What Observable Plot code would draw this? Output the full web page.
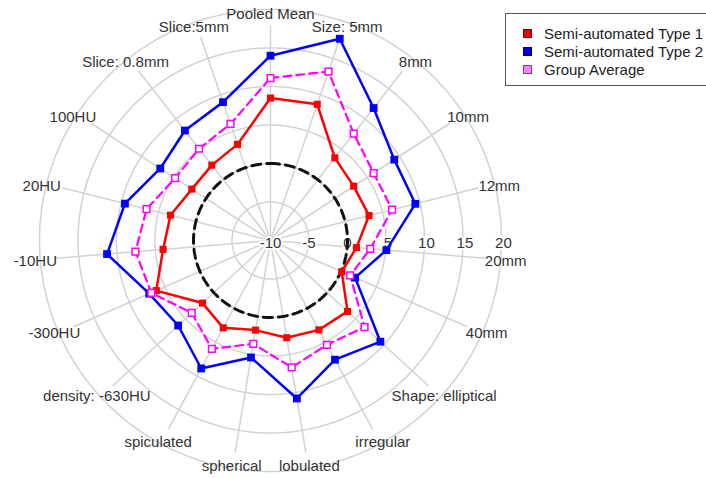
<!DOCTYPE html>
<html><head><meta charset="utf-8">
<script src="https://cdn.jsdelivr.net/npm/d3@7"></script>
<script src="https://cdn.jsdelivr.net/npm/@observablehq/plot@0.6"></script>
<style>
html,body{margin:0;padding:0;background:#fff;overflow:hidden}
#wrap{position:relative;width:706px;height:478px;font-family:"Liberation Sans",Arial,sans-serif}
#wrap svg{position:absolute;left:0;top:0}
#legend{position:absolute;left:505px;top:13px;width:240px;height:73px;border:1.5px solid #555;background:#fff;box-sizing:border-box}
.item{position:absolute;left:38px;font-size:15px;color:#222;line-height:18px;white-space:nowrap}
.sw{position:absolute;left:17px;width:9px;height:9px;box-sizing:border-box;border:1px solid}
</style></head><body><div id="wrap"></div>
<script>
const axes = ["Pooled Mean","Size: 5mm","8mm","10mm","12mm","20mm","40mm","Shape: elliptical","irregular","lobulated","spherical","spiculated","density: -630HU","-300HU","-10HU","20HU","100HU","Slice: 0.8mm","Slice:5mm"];
const type1 = [8.5,8.7,3.6,2.9,3.2,1.2,0.1,3.6,3.2,2.8,1.8,2.9,2.0,6.2,4.0,3.4,2.2,2.4,3.2];
const type2 = [14.0,17.7,11.8,9.2,9.4,5.1,2.0,9.4,7.6,10.8,5.4,8.9,6.3,7.2,11.3,9.5,7.1,8.1,9.0];
const groupAvg = [11.1,13.2,7.6,6.0,6.3,3.0,1.3,6.6,5.4,6.7,3.6,6.0,3.9,6.9,7.6,6.6,4.8,5.1,6.0];
const radialTicks = [-10,-5,0,5,10,15,20];
const seriesNames = ["Semi-automated Type 1","Semi-automated Type 2","Group Average"];
const seriesColors = ["#ff0000","#0000ff","#ff00ff"];

const K = 7.7, CX = 270, CY = 240, W = 706, H = 478;
const MIN = -10;
const n = axes.length;
const ang = i => i * 2 * Math.PI / n;
const P = (v, i) => ({x: (v - MIN) * Math.sin(ang(i)), y: (v - MIN) * Math.cos(ang(i))});

const series = [type1, type2, groupAvg].map((vals, s) =>
  vals.map((v, i) => ({series: seriesNames[s], ...P(v, i)})));

const ring = (t, m = 240) => d3.range(m).map(j => {
  const a = 2 * Math.PI * j / m;
  return {t, x: (t - MIN) * Math.sin(a), y: (t - MIN) * Math.cos(a)};
});
const gridPts = radialTicks.filter(t => t > MIN).flatMap(t => ring(t));
const zeroPts = ring(0);
const spokeLen = 17.9;
const spokes = axes.map((a, i) => ({x1: 0, y1: 0, x2: P(spokeLen, i).x, y2: P(spokeLen, i).y}));
// perimeter labels sit on a slightly flattened ring just outside the outer grid circle
const labRx = 30.65, labRy = 29.55, labDy = -0.19;
const labelPts = axes.map((a, i) => ({label: a, x: labRx * Math.sin(ang(i)), y: labDy + labRy * Math.cos(ang(i))}));

const chart = Plot.plot({
  width: W, height: H, margin: 0,
  style: {fontFamily: '"Liberation Sans", Arial, sans-serif', background: "transparent"},
  x: {domain: [-CX / K, (W - CX) / K], axis: null},
  y: {domain: [-(H - CY) / K, CY / K], axis: null},
  marks: [
    Plot.line(gridPts, {x: "x", y: "y", z: "t", curve: "linear-closed", stroke: "#d2d2d2", strokeWidth: 1.5}),
    Plot.link(spokes, {x1: "x1", y1: "y1", x2: "x2", y2: "y2", stroke: "#d2d2d2", strokeWidth: 1.5}),
    Plot.text(radialTicks, {x: t => t - MIN + (t > 0 ? 0.25 : 0), y: -0.4, text: t => String(t), fontSize: 15, fill: "#333", stroke: "white", strokeWidth: 4}),
    Plot.line(zeroPts, {x: "x", y: "y", curve: "linear-closed", stroke: "#111", strokeWidth: 3, strokeDasharray: "9,6"}),
    Plot.line(series[0], {x: "x", y: "y", curve: "linear-closed", stroke: seriesColors[0], strokeWidth: 2.5}),
    Plot.line(series[1], {x: "x", y: "y", curve: "linear-closed", stroke: seriesColors[1], strokeWidth: 2.5}),
    Plot.line(series[2], {x: "x", y: "y", curve: "linear-closed", stroke: seriesColors[2], strokeWidth: 2.2, strokeDasharray: "8,5"}),
    Plot.dot(series[0], {x: "x", y: "y", symbol: "square", r: 4, fill: seriesColors[0]}),
    Plot.dot(series[1], {x: "x", y: "y", symbol: "square", r: 4.4, fill: seriesColors[1]}),
    Plot.dot(series[2], {x: "x", y: "y", symbol: "square", r: 3.8, fill: "white", stroke: seriesColors[2], strokeWidth: 1.5}),
    Plot.text(labelPts, {x: "x", y: "y", text: "label", fontSize: 15, fill: "#333"})
  ]
});
const wrap = document.getElementById("wrap");
wrap.appendChild(chart);

const legend = document.createElement("div");
legend.id = "legend";
const swFill = ["#e80000", "#0000e8", "#ee88ee"];
const swBorder = ["#8a0000", "#00007a", "#8a3a8a"];
seriesNames.forEach((name, i) => {
  const top = 11 + i * 18;
  const sw = document.createElement("div");
  sw.className = "sw";
  sw.style.top = (top + 4) + "px";
  sw.style.background = swFill[i];
  sw.style.borderColor = swBorder[i];
  legend.appendChild(sw);
  const t = document.createElement("div");
  t.className = "item";
  t.style.top = top + "px";
  t.textContent = name;
  legend.appendChild(t);
});
wrap.appendChild(legend);
</script></body></html>
